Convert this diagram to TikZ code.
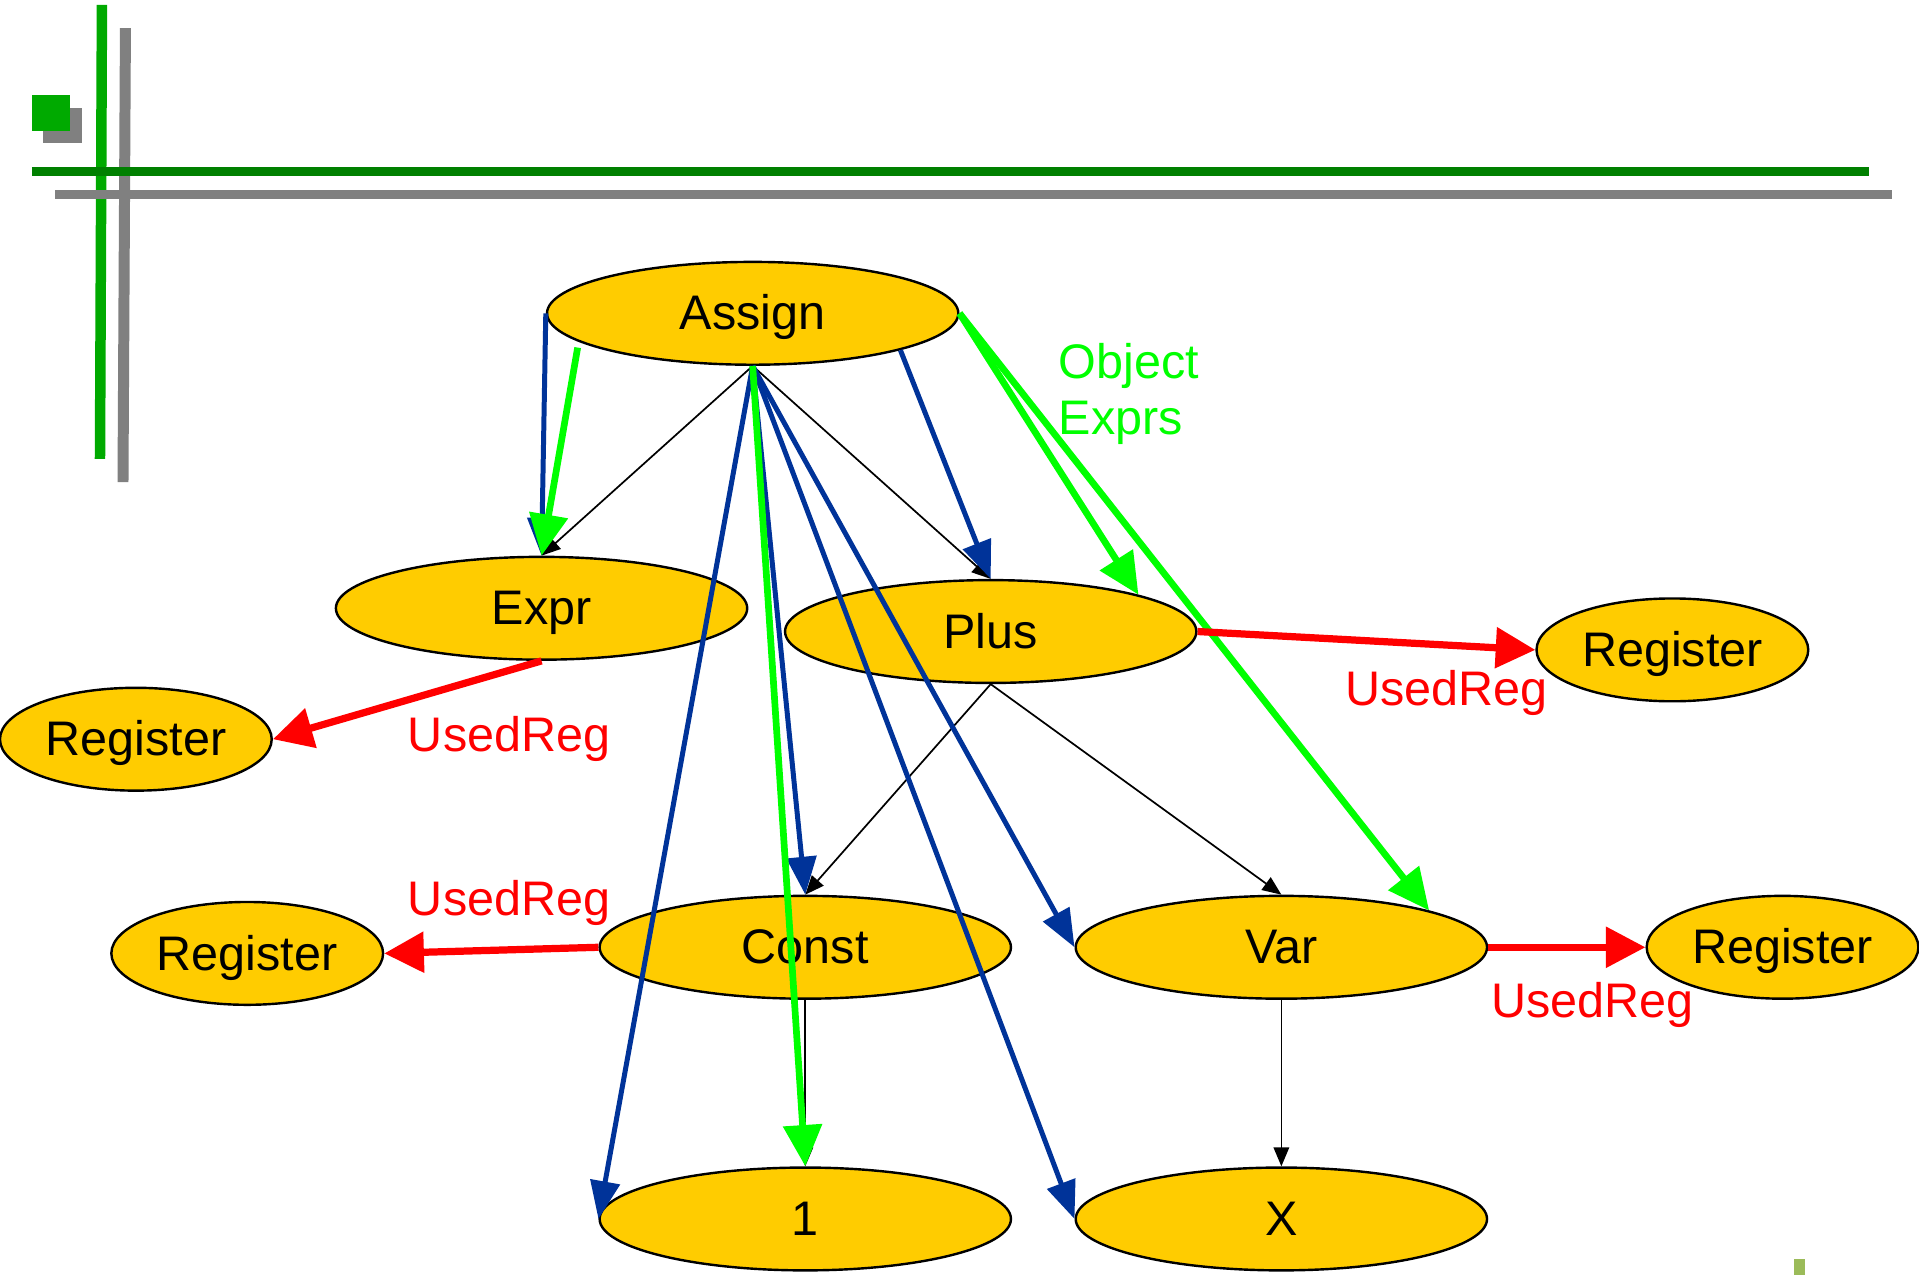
\documentclass[tikz,border=0pt]{standalone}
\usepackage{fontspec}
\setmainfont{Liberation Sans}
\usetikzlibrary{shapes.geometric,arrows.meta,calc}

\definecolor{gold}{HTML}{FFCC00}
\definecolor{navy}{HTML}{003399}
\definecolor{lime}{HTML}{00FF00}
\definecolor{pure red}{HTML}{FF0000}
\definecolor{barGreen}{HTML}{00AA00}
\definecolor{barDark}{HTML}{008000}
\definecolor{barGray}{HTML}{808080}
\definecolor{olive}{HTML}{9BBB59}

\begin{document}
\begin{tikzpicture}[x=0.025cm,y=-0.025cm,
  txt/.style={font=\fontsize{28.2}{32.3}\selectfont},
  nodebox/.style={ellipse, draw=black, line width=1.4pt, fill=gold, inner sep=0pt,
    minimum width=8.4cm, minimum height=2.1cm, txt, text height=19.3pt, text depth=0pt},
  regbox/.style={nodebox, minimum width=5.55cm},
  blackedge/.style={draw=black, line width=1pt, -{Triangle[length=11pt,width=9pt]}},
  blueedge/.style={draw=navy, line width=2.9pt, -{Triangle[length=22pt,width=17pt]}},
  greenedge/.style={draw=lime, line width=3.9pt, -{Triangle[length=24pt,width=22pt]}},
  rededge/.style={draw=pure red, line width=4.2pt, -{Triangle[length=23pt,width=23pt]}},
  redlabel/.style={txt, text=pure red, inner sep=0pt},
]
\useasboundingbox[fill=white] (0,0) rectangle (1568,1042);

% corner ornament: crossing bars and offset squares
\fill[barGray] (35,88) rectangle (67,117);
\fill[barGreen] (26,78) rectangle (57,107);
\draw[barGreen, line width=8.6*0.709pt] (83.3,4) -- (81.7,375);
\draw[barGray, line width=9*0.709pt] (102.5,23) -- (100.5,394);
\draw[barDark, line width=7.4*0.709pt] (26,140) -- (1527,140);
\draw[barGray, line width=7.4*0.709pt] (45,159) -- (1546,159);
\fill[olive] (1466,1029) rectangle (1475,1042);

% nodes
\node[nodebox] (Assign) at (615,256) {Assign};
\node[nodebox] (Expr)   at (442.5,497) {Expr};
\node[nodebox] (Plus)   at (809.5,516) {Plus};
\node[nodebox] (Const)  at (658,774) {Const};
\node[nodebox] (Var)    at (1047,774) {Var};
\node[nodebox] (One)    at (658,996) {1};
\node[nodebox] (X)      at (1047,996) {X};
\node[regbox] (RegA) at (1366.5,531) {Register};
\node[regbox] (RegB) at (111,604) {Register};
\node[regbox] (RegC) at (202,779) {Register};
\node[regbox] (RegD) at (1456.5,774) {Register};

% structure edges
\draw[blackedge] (Assign.south) -- (Expr.north);
\draw[blackedge] (Assign.south) -- (Plus.north);
\draw[blackedge] (Plus.south) -- (Const.north);
\draw[blackedge] (Plus.south) -- (Var.north);
\draw[blackedge] (Const.south) -- (One.north);
\draw[blackedge] (Var.south) -- (X.north);

% blue edges
\draw[blueedge] (Assign.west) -- (Expr.north);
\draw[blueedge] (Assign.346) -- (Plus.north);
\draw[blueedge] (Assign.south) -- (One.west);
\draw[blueedge] (Assign.south) -- (Const.north);
\draw[blueedge] (Assign.south) -- (Var.west);
\draw[blueedge] (Assign.south) -- (X.west);

% object expression edges
\coordinate (gtail) at ($(Assign.center)+(-143,28)$);
\draw[greenedge] (gtail) -- (Expr.north);
\draw[greenedge] (Assign.east) -- (Plus.14);
\draw[greenedge] (Assign.east) -- (Var.14);
\draw[greenedge] (Assign.south) -- (One.north);
\node[txt, text=lime, align=left, anchor=west, inner sep=0pt] (objlbl) at (865,322) {Object\\Exprs};

% used register edges
\draw[rededge] (Expr.south) -- (RegB.east);
\draw[rededge] (Plus.east) -- (RegA.west);
\draw[rededge] (Const.west) -- (RegC.east);
\draw[rededge] (Var.east) -- (RegD.west);
\node[redlabel] (lblB) at (416,604) {UsedReg};
\node[redlabel] (lblA) at (1182,566) {UsedReg};
\node[redlabel] (lblC) at (416,738) {UsedReg};
\node[redlabel] (lblD) at (1301,821) {UsedReg};
\end{tikzpicture}
\end{document}
